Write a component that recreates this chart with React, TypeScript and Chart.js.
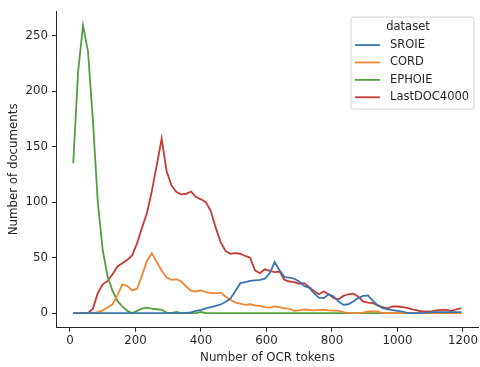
import React, { useEffect, useRef } from "react";
import { Chart, registerables } from "chart.js";

Chart.register(...registerables);

// Number of OCR tokens (x positions of the polyline vertices)
const tokens = [
  10, 25, 40, 55, 70, 85, 100, 115, 130, 145,
  160, 175, 190, 205, 220, 235, 250, 265, 280, 295,
  310, 325, 340, 355, 370, 385, 400, 415, 430, 445,
  460, 475, 490, 505, 520, 535, 550, 565, 580, 595,
  610, 625, 640, 655, 670, 685, 700, 715, 730, 745,
  760, 775, 790, 805, 820, 835, 850, 865, 880, 895,
  910, 925, 940, 955, 970, 985, 1000, 1015, 1030, 1045,
  1060, 1075, 1090, 1105, 1120, 1135, 1150, 1165, 1180, 1195,
];

const sroie = [
  0, 0, 0, 0, 0, 0, 0, 0, 0, 0,
  0, 0, 0, 0, 0, 0, 0, 0, 0, 0,
  0, 0, 0, 0.3, 0.7, 2, 3, 4.3, 5.5, 6.5,
  7.8, 10, 13, 20, 27, 28, 29, 29.5, 30, 31,
  36, 46, 38.5, 32.5, 32, 31, 28.5, 24.5, 23, 18,
  14, 13.5, 17, 15, 10.5, 7.5, 8, 10.5, 13.5, 15.5,
  16, 11, 7, 4.5, 3.3, 2.7, 2, 1.3, 0.3, 0,
  0, 0, 0.5, 1, 1, 1, 1, 1, 1, 1,
];

const cord = [
  0, 0, 0, 0, 0, 1, 2.5, 5, 8, 16,
  26, 24.5, 20.5, 22, 34, 47, 54, 46, 38.5, 32,
  30, 30.5, 28.5, 24, 20, 19.5, 20.5, 19, 18, 18,
  18.5, 15, 12, 9.5, 8.5, 7.5, 8, 7, 6.5, 5.5,
  5, 6, 5.5, 4.3, 4, 2, 2.5, 3.3, 3, 2.5,
  3, 3.2, 2.5, 2.3, 2.3, 1, 0, 0, 0, 0.5,
  1.5, 1.5, 1.5, 0, 0, 0, 0, 0, 0, 0,
  0, 0, 0, 0, 0, 0.5, 0.5, 0, 0, 0,
];

const ephoie = [
  135, 218, 259, 236, 174, 100, 57, 33, 20, 11,
  6, 2, 0, 2, 4, 5, 4, 3.5, 3, 0.5,
  0, 1, 0, 0, 0, 0, 1, 0, 0, 0,
  0, 0, 0, 0, 0, 0, 0, 0, 0, 0,
  0, 0, 0, 0, 0, 0, 0, 0, 0, 0,
  0, 0, 0, 0, 0, 0, 0, 0, 0, 0,
  0, 0, 0, 0, 0, 0, 0, 0, 0, 0,
  0, 0, 0, 0, 0, 0, 0, 0, 0, 0,
];

const lastdoc = [
  0, 0, 0, 0, 4, 18, 26, 29, 35, 42,
  45, 48, 52, 63, 77, 90, 110, 133, 157, 128,
  115, 109, 107, 107.5, 109.5, 104.5, 102.5, 100, 92, 77,
  64, 56, 53.5, 54, 53.5, 51.5, 50, 38.5, 36, 39.5,
  38, 37, 37.5, 30, 28.5, 28, 26.5, 27, 23.5, 20,
  17, 19.5, 17, 13.5, 12.5, 15.5, 17, 17.5, 15, 10.5,
  9.5, 9, 7, 5.5, 4.4, 6, 6, 5.5, 4.7, 3.5,
  2.5, 1.5, 1.5, 1.5, 2.5, 3, 3, 1.8, 3.5, 4.5,
];

const seriesNames = ["SROIE", "CORD", "EPHOIE", "LastDOC4000"];
const seriesValues = [sroie, cord, ephoie, lastdoc];
const seriesColors = ["#3b75af", "#ef8636", "#519e3e", "#c53a32"];

const xTickValues = [0, 200, 400, 600, 800, 1000, 1200];
const yTickValues = [0, 50, 100, 150, 200, 250];

const legendTitle = "dataset";
const xAxisTitle = "Number of OCR tokens";
const yAxisTitle = "Number of documents";

const FONT = "'DejaVu Sans', sans-serif";
const TEXT_COLOR = "#262626";

const boxLegend = {
  id: "boxLegend",
  afterDraw(chart: any) {
    const ctx = chart.ctx as CanvasRenderingContext2D;
    const area = chart.chartArea;
    const w = 123;
    const h = 92;
    const x = area.right - 5 - w;
    const y = area.top + 6;
    ctx.save();
    ctx.beginPath();
    const r = 2.5;
    ctx.moveTo(x + r, y);
    ctx.lineTo(x + w - r, y);
    ctx.arcTo(x + w, y, x + w, y + r, r);
    ctx.lineTo(x + w, y + h - r);
    ctx.arcTo(x + w, y + h, x + w - r, y + h, r);
    ctx.lineTo(x + r, y + h);
    ctx.arcTo(x, y + h, x, y + h - r, r);
    ctx.lineTo(x, y + r);
    ctx.arcTo(x, y, x + r, y, r);
    ctx.closePath();
    ctx.fillStyle = "rgba(255,255,255,0.8)";
    ctx.fill();
    ctx.strokeStyle = "#d0d0d0";
    ctx.lineWidth = 1;
    ctx.stroke();

    ctx.fillStyle = TEXT_COLOR;
    ctx.textBaseline = "middle";
    ctx.textAlign = "center";
    ctx.font = `11.5px ${FONT}`;
    ctx.fillText(legendTitle, x + 57, y + 10);

    ctx.textAlign = "left";
    chart.data.datasets.forEach((ds: any, i: number) => {
      const cy = y + 28 + i * 17.4;
      ctx.strokeStyle = ds.borderColor;
      ctx.lineWidth = 1.8;
      ctx.beginPath();
      ctx.moveTo(x + 4, cy);
      ctx.lineTo(x + 29, cy);
      ctx.stroke();
      ctx.fillStyle = TEXT_COLOR;
      ctx.fillText(ds.label, x + 39, cy);
    });
    ctx.restore();
  },
};

export default function App() {
  const ref = useRef<HTMLCanvasElement | null>(null);

  useEffect(() => {
    if (!ref.current) return;
    const font = { family: FONT, size: 11.8 };
    const chart = new Chart(ref.current, {
      type: "line",
      data: {
        datasets: seriesNames.map((name, i) => ({
          label: name,
          data: tokens.map((t, j) => ({ x: t, y: seriesValues[i][j] })),
          borderColor: seriesColors[i],
          backgroundColor: seriesColors[i],
          borderWidth: 1.8,
          pointRadius: 0,
          tension: 0,
          fill: false,
        })),
      },
      options: {
        responsive: false,
        animation: false,
        layout: { padding: { top: 8, right: 0, left: 0, bottom: 0 } },
        plugins: {
          legend: { display: false },
          tooltip: { enabled: false },
        },
        scales: {
          x: {
            type: "linear",
            min: -42.6,
            max: 1248.8,
            afterBuildTicks: (s: any) => {
              s.ticks = xTickValues.map((v) => ({ value: v }));
            },
            afterFit: (s: any) => {
              s.height = 39.3;
            },
            grid: {
              display: true,
              drawOnChartArea: false,
              drawTicks: true,
              tickLength: 4,
              color: TEXT_COLOR,
              lineWidth: 1,
            },
            border: { display: true, color: TEXT_COLOR, width: 1 },
            ticks: {
              font,
              color: TEXT_COLOR,
              padding: 2,
              maxRotation: 0,
              autoSkip: false,
              callback: (v: any) => String(v),
            },
            title: {
              display: true,
              text: xAxisTitle,
              font,
              color: TEXT_COLOR,
              padding: { top: 0, bottom: 2 },
            },
          },
          y: {
            type: "linear",
            min: -13.1,
            max: 272,
            afterBuildTicks: (s: any) => {
              s.ticks = yTickValues.map((v) => ({ value: v }));
            },
            afterFit: (s: any) => {
              s.width = 56;
            },
            grid: {
              display: true,
              drawOnChartArea: false,
              drawTicks: true,
              tickLength: 4,
              color: TEXT_COLOR,
              lineWidth: 1,
            },
            border: { display: true, color: TEXT_COLOR, width: 1 },
            ticks: {
              font,
              color: TEXT_COLOR,
              padding: 4,
              autoSkip: false,
              callback: (v: any) => String(v),
            },
            title: {
              display: true,
              text: yAxisTitle,
              font,
              color: TEXT_COLOR,
              padding: { top: 7, bottom: 0 },
            },
          },
        },
      },
      plugins: [boxLegend],
    });
    return () => chart.destroy();
  }, []);

  return (
    <div style={{ position: "absolute", left: 0, top: 0, width: 480, height: 367 }}>
      <canvas ref={ref} width={480} height={367} style={{ display: "block" }} />
    </div>
  );
}
